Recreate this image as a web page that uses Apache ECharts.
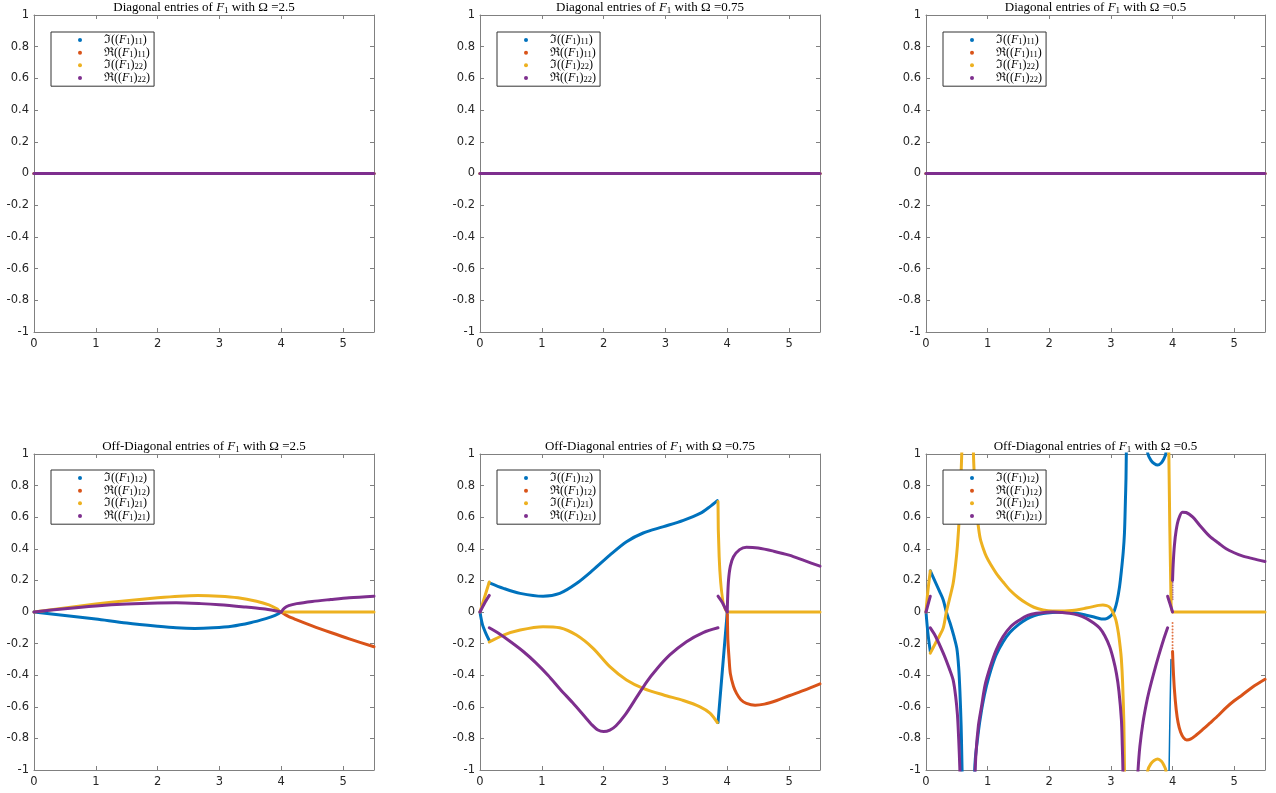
<!DOCTYPE html>
<html><head><meta charset="utf-8">
<script src="https://cdn.jsdelivr.net/npm/echarts@6/dist/echarts.min.js"></script>
<style>html,body{margin:0;padding:0;background:#fff}#c{width:1276px;height:793px}</style>
</head><body><div id="c"></div><script>
// ---------- values ----------
const omegas = ['2.5', '0.75', '0.5'];
const diagNames = ['Im11', 'Re11', 'Im22', 'Re22'];
const offNames = ['Im12', 'Re12', 'Im21', 'Re21'];

// Diagonal entries (all zero)
const diag25_Im11 = [[[0, 0], [5.5, 0]]];
const diag25_Re11 = [[[0, 0], [5.5, 0]]];
const diag25_Im22 = [[[0, 0], [5.5, 0]]];
const diag25_Re22 = [[[0, 0], [5.5, 0]]];
const diag075_Im11 = [[[0, 0], [5.5, 0]]];
const diag075_Re11 = [[[0, 0], [5.5, 0]]];
const diag075_Im22 = [[[0, 0], [5.5, 0]]];
const diag075_Re22 = [[[0, 0], [5.5, 0]]];
const diag05_Im11 = [[[0, 0], [5.5, 0]]];
const diag05_Re11 = [[[0, 0], [5.5, 0]]];
const diag05_Im22 = [[[0, 0], [5.5, 0]]];
const diag05_Re22 = [[[0, 0], [5.5, 0]]];

// Off-diagonal, Omega = 2.5
const off25_Im12 = [[[0,0],[0.5,-0.022],[1,-0.045],[1.5,-0.07],[2,-0.09],[2.3,-0.1],[2.6,-0.104],[2.9,-0.1],[3.2,-0.09],[3.5,-0.068],[3.75,-0.042],[3.9,-0.022],[4,0]]];
const off25_Re12 = [[[4,0],[4.1,-0.025],[4.25,-0.05],[4.5,-0.088],[4.8,-0.13],[5.1,-0.17],[5.5,-0.22]]];
const off25_Im21 = [[[0,0],[0.5,0.026],[1,0.05],[1.5,0.072],[2,0.09],[2.35,0.1],[2.65,0.104],[3,0.1],[3.3,0.09],[3.6,0.068],[3.8,0.045],[3.93,0.02],[4,0],[5.5,0]]];
const off25_Re21 = [
  [[0,0],[0.5,0.021],[1,0.038],[1.5,0.05],[2,0.057],[2.3,0.058],[2.7,0.053],[3,0.046],[3.4,0.032],[3.7,0.02],[3.9,0.008],[4,0]],
  [[4,0],[4.05,0.025],[4.12,0.04],[4.25,0.053],[4.5,0.067],[4.8,0.079],[5.1,0.09],[5.5,0.1]]
];

// Off-diagonal, Omega = 0.75
const off075_Im12 = [
  [[0,0],[0.04,-0.08],[0.1,-0.14],[0.15,-0.18]],
  [[0.15,0.185],[0.38,0.15],[0.65,0.118],[1.02,0.1],[1.29,0.118],[1.56,0.18],[1.83,0.266],[2.1,0.36],[2.37,0.445],[2.64,0.5],[2.97,0.54],[3.29,0.58],[3.56,0.624],[3.72,0.667],[3.84,0.705]],
  [[3.85,-0.7],[4,0]]
];
const off075_Re12 = [[[4,0],[4.005,-0.1],[4.01,-0.18],[4.03,-0.3],[4.05,-0.39],[4.1,-0.47],[4.15,-0.515],[4.22,-0.555],[4.31,-0.578],[4.45,-0.59],[4.6,-0.583],[4.8,-0.56],[5,-0.53],[5.25,-0.495],[5.5,-0.455]]];
const off075_Im21 = [
  [[0,0],[0.15,0.19]],
  [[0.15,-0.19],[0.38,-0.146],[0.65,-0.114],[1.02,-0.093],[1.29,-0.1],[1.56,-0.146],[1.83,-0.23],[2.1,-0.346],[2.37,-0.43],[2.64,-0.483],[2.97,-0.525],[3.29,-0.56],[3.56,-0.6],[3.72,-0.64],[3.84,-0.7]],
  [[3.85,0.7],[4,0],[5.5,0]]
];
const off075_Re21 = [
  [[0,0],[0.08,0.06],[0.15,0.105]],
  [[0.15,-0.1],[0.3,-0.135],[0.5,-0.19],[0.7,-0.25],[0.9,-0.32],[1.1,-0.4],[1.3,-0.49],[1.5,-0.575],[1.7,-0.665],[1.8,-0.71],[1.9,-0.745],[2,-0.757],[2.1,-0.748],[2.2,-0.72],[2.35,-0.65],[2.54,-0.536],[2.7,-0.44],[2.85,-0.365],[3.07,-0.272],[3.34,-0.188],[3.61,-0.13],[3.85,-0.1]],
  [[3.85,0.1],[3.92,0.06],[3.97,0.02],[4,0]],
  [[4,0],[4.005,0.08],[4.02,0.2],[4.05,0.29],[4.1,0.35],[4.2,0.395],[4.31,0.41],[4.5,0.405],[4.75,0.385],[5,0.36],[5.25,0.325],[5.5,0.29]]
];

// Off-diagonal, Omega = 0.5
const off05_Im12 = [
  [[0,0],[0.03,-0.13],[0.07,-0.25]],
  [[0.07,0.26],[0.15,0.19],[0.22,0.13],[0.28,0.076],[0.33,0],[0.39,-0.07],[0.45,-0.15],[0.5,-0.23],[0.53,-0.35],[0.55,-0.5],[0.57,-0.72],[0.58,-0.9],[0.59,-1.1]],
  [[0.78,-1.1],[0.8,-0.93],[0.84,-0.79],[0.87,-0.7],[0.92,-0.58],[0.98,-0.47],[1.05,-0.37],[1.14,-0.27],[1.25,-0.19],[1.36,-0.13],[1.5,-0.08],[1.63,-0.045],[1.75,-0.024],[1.9,-0.01],[2.05,-0.003],[2.2,0],[2.44,-0.008],[2.6,-0.02],[2.71,-0.03],[2.8,-0.04],[2.87,-0.045],[2.93,-0.042],[2.98,-0.03],[3.03,-0.01],[3.06,0.013],[3.1,0.07],[3.14,0.16],[3.17,0.26],[3.2,0.38],[3.22,0.5],[3.235,0.7],[3.245,0.85],[3.25,1],[3.26,1.2]],
  [[3.58,1.1],[3.6,1],[3.65,0.96],[3.7,0.94],[3.76,0.93],[3.82,0.945],[3.86,0.97],[3.89,1],[3.9,1.1]]
];
const off05_Im12_steep = [[[3.94,-1.1],[3.96,-0.6],[3.975,-0.3]]];
const off05_Re12 = [[[4,-0.25],[4.01,-0.35],[4.03,-0.49],[4.06,-0.62],[4.09,-0.7],[4.13,-0.76],[4.18,-0.797],[4.23,-0.81],[4.29,-0.805],[4.38,-0.78],[4.5,-0.74],[4.6,-0.705],[4.75,-0.652],[4.87,-0.605],[5,-0.562],[5.13,-0.525],[5.3,-0.475],[5.5,-0.426]]];
const off05_Re12_dots = [[4,-0.07],[4,-0.09],[4,-0.11],[4,-0.13],[4,-0.15],[4,-0.17],[4,-0.19],[4,-0.21],[4,-0.23]];
const off05_Im21 = [
  [[0,0],[0.03,0.13],[0.07,0.26]],
  [[0.07,-0.26],[0.15,-0.2],[0.22,-0.15],[0.28,-0.1],[0.33,0],[0.38,0.08],[0.44,0.18],[0.48,0.3],[0.51,0.42],[0.54,0.6],[0.56,0.78],[0.58,1],[0.6,1.25]],
  [[0.765,1.2],[0.77,1],[0.785,0.85],[0.8,0.74],[0.82,0.64],[0.85,0.54],[0.88,0.465],[0.93,0.4],[0.98,0.35],[1.05,0.3],[1.14,0.245],[1.25,0.19],[1.36,0.139],[1.5,0.09],[1.63,0.055],[1.75,0.03],[1.9,0.013],[2.05,0.006],[2.2,0.006],[2.44,0.013],[2.6,0.025],[2.71,0.034],[2.8,0.042],[2.87,0.044],[2.93,0.04],[2.98,0.03],[3.03,0],[3.08,-0.05],[3.12,-0.13],[3.15,-0.22],[3.17,-0.3],[3.19,-0.45],[3.21,-0.7],[3.22,-1],[3.23,-1.2]],
  [[3.58,-1.1],[3.6,-1],[3.65,-0.96],[3.7,-0.94],[3.76,-0.93],[3.82,-0.945],[3.86,-0.97],[3.89,-1],[3.9,-1.1]],
  [[3.935,1.1],[3.94,1],[3.975,0.08],[4,0],[5.5,0]]
];
const off05_Re21 = [
  [[0,0],[0.07,0.1]],
  [[0.07,-0.1],[0.15,-0.15],[0.28,-0.26],[0.38,-0.36],[0.44,-0.43],[0.48,-0.53],[0.51,-0.65],[0.53,-0.8],[0.55,-1],[0.56,-1.15]],
  [[0.79,-1.1],[0.81,-0.9],[0.85,-0.72],[0.9,-0.6],[0.96,-0.46],[1.04,-0.35],[1.14,-0.24],[1.25,-0.156],[1.38,-0.09],[1.52,-0.05],[1.65,-0.022],[1.79,-0.008],[1.95,-0.002],[2.06,0],[2.2,-0.003],[2.33,-0.008],[2.47,-0.02],[2.6,-0.04],[2.72,-0.07],[2.82,-0.103],[2.9,-0.15],[2.98,-0.22],[3.04,-0.3],[3.09,-0.39],[3.13,-0.5],[3.17,-0.68],[3.185,-0.85],[3.195,-1],[3.2,-1.2]],
  [[3.43,-1.1],[3.44,-1],[3.47,-0.85],[3.52,-0.7],[3.57,-0.59],[3.62,-0.5],[3.7,-0.38],[3.78,-0.27],[3.85,-0.18],[3.92,-0.1]],
  [[3.92,0.1],[3.96,0.05],[4,0]],
  [[4,0.2],[4.01,0.3],[4.03,0.42],[4.06,0.52],[4.1,0.59],[4.16,0.632],[4.22,0.63],[4.33,0.6],[4.45,0.545],[4.6,0.48],[4.75,0.435],[4.87,0.4],[5,0.375],[5.13,0.355],[5.3,0.338],[5.5,0.32]]
];
const off05_Re21_dots = [[4,0.08],[4,0.095],[4,0.11],[4,0.125],[4,0.14],[4,0.155],[4,0.17],[4,0.185],[4,0.2]];

// ---------- layout / style ----------
const COLORS = ['#0072BD', '#D95319', '#EDB120', '#7E2F8E'];
const AXIS = '#808080';
const LEFTS = [34, 480, 926];
const WIDTHS = [340, 340, 339];
const TOPS = [15, 454];
const HEIGHTS = [317, 316];

const panels = [
  { row: 0, col: 0, kind: 'Diagonal', names: diagNames, data: [diag25_Im11, diag25_Re11, diag25_Im22, diag25_Re22] },
  { row: 0, col: 1, kind: 'Diagonal', names: diagNames, data: [diag075_Im11, diag075_Re11, diag075_Im22, diag075_Re22] },
  { row: 0, col: 2, kind: 'Diagonal', names: diagNames, data: [diag05_Im11, diag05_Re11, diag05_Im22, diag05_Re22] },
  { row: 1, col: 0, kind: 'Off-Diagonal', names: offNames, data: [off25_Im12, off25_Re12, off25_Im21, off25_Re21] },
  { row: 1, col: 1, kind: 'Off-Diagonal', names: offNames, data: [off075_Im12, off075_Re12, off075_Im21, off075_Re21] },
  { row: 1, col: 2, kind: 'Off-Diagonal', names: offNames, data: [off05_Im12, off05_Re12, off05_Im21, off05_Re21],
    extra: [{ k: 0, segs: off05_Im12_steep, width: 1.5 }],
    dots: [{ k: 1, pts: off05_Re12_dots }, { k: 3, pts: off05_Re21_dots }] }
];

const grid = [], xAxis = [], yAxis = [], series = [], legend = [], graphic = [];
const serif = 'Liberation Serif, DejaVu Serif, serif';

function legendFmt(name) {
  const sym = name[0] === 'I' ? 'ℑ' : 'ℜ';
  return '{a|' + sym + '((}{i|F}{s|1}{a|)}{s|' + name.slice(2) + '}{a|)}';
}

panels.forEach((p, gi) => {
  const left = LEFTS[p.col], top = TOPS[p.row], w = WIDTHS[p.col], h = HEIGHTS[p.row];
  grid.push({ left: left, top: top, width: w, height: h, containLabel: false });
  const labelStyle = { color: '#262626', fontSize: 11.5, fontFamily: 'DejaVu Sans, sans-serif' };
  xAxis.push({ type: 'value', gridIndex: gi, min: 0, max: 5.5, interval: 1, position: 'bottom',
    axisLine: { show: true, onZero: false, lineStyle: { color: AXIS, width: 1 } },
    axisTick: { show: true, inside: true, length: 4, lineStyle: { color: AXIS } },
    axisLabel: Object.assign({ margin: 6, showMaxLabel: false }, labelStyle),
    splitLine: { show: false } });
  xAxis.push({ type: 'value', gridIndex: gi, min: 0, max: 5.5, interval: 1, position: 'top',
    axisLine: { show: true, onZero: false, lineStyle: { color: AXIS, width: 1 } },
    axisTick: { show: true, inside: true, length: 4, lineStyle: { color: AXIS } },
    axisLabel: { show: false }, splitLine: { show: false } });
  yAxis.push({ type: 'value', gridIndex: gi, min: -1, max: 1, interval: 0.2, position: 'left',
    axisLine: { show: true, onZero: false, lineStyle: { color: AXIS, width: 1 } },
    axisTick: { show: true, inside: true, length: 4, lineStyle: { color: AXIS } },
    axisLabel: Object.assign({ margin: 5, formatter: v => String(Math.round(v * 10) / 10) }, labelStyle),
    splitLine: { show: false } });
  yAxis.push({ type: 'value', gridIndex: gi, min: -1, max: 1, interval: 0.2, position: 'right',
    axisLine: { show: true, onZero: false, lineStyle: { color: AXIS, width: 1 } },
    axisTick: { show: true, inside: true, length: 4, lineStyle: { color: AXIS } },
    axisLabel: { show: false }, splitLine: { show: false } });

  const xi = gi * 2, yi = gi * 2;
  const addLine = (name, color, seg, width) => series.push({
    type: 'line', name: name, xAxisIndex: xi, yAxisIndex: yi, data: seg,
    symbol: 'none', showSymbol: false, smooth: 0.3, clip: true,
    lineStyle: { width: width, color: color, cap: 'round', join: 'round' }, itemStyle: { color: color },
    emphasis: { disabled: true }, animation: false, silent: true
  });
  p.names.forEach((name, k) => {
    p.data[k].forEach(seg => addLine(name, COLORS[k], seg, 3));
    (p.extra || []).filter(e => e.k === k).forEach(e => e.segs.forEach(seg => addLine(name, COLORS[k], seg, e.width)));
    (p.dots || []).filter(d => d.k === k).forEach(d => series.push({
      type: 'scatter', name: name, xAxisIndex: xi, yAxisIndex: yi, data: d.pts,
      symbol: 'circle', symbolSize: 2, itemStyle: { color: COLORS[k] }, animation: false, silent: true
    }));
  });

  legend.push({
    orient: 'vertical', left: left + 17, top: p.row === 0 ? 32 : 470,
    data: p.names, icon: 'circle', itemWidth: 4, itemHeight: 4, itemGap: 0.4,
    padding: [2, 4, 2, 27], backgroundColor: '#fff', borderColor: '#333', borderWidth: 1, borderRadius: 0,
    selectedMode: false, formatter: legendFmt,
    textStyle: { padding: [0, 0, 0, 17], color: '#000',
      rich: {
        a: { fontFamily: serif, fontSize: 12, lineHeight: 12.5, color: '#000' },
        i: { fontFamily: serif, fontSize: 12, lineHeight: 12.5, fontStyle: 'italic', color: '#000' },
        s: { fontFamily: serif, fontSize: 8.5, lineHeight: 9, verticalAlign: 'bottom', color: '#000' }
      } }
  });

  graphic.push({
    type: 'text', x: left + w / 2, y: p.row === 0 ? 8 : 447, silent: true,
    style: {
      text: '{a|' + p.kind + ' entries of }{i|F}{s|1}{a| with Ω =' + omegas[p.col] + '}',
      align: 'center', verticalAlign: 'middle',
      rich: {
        a: { fontFamily: serif, fontSize: 13, lineHeight: 15, fill: '#000' },
        i: { fontFamily: serif, fontSize: 13, lineHeight: 15, fontStyle: 'italic', fill: '#000' },
        s: { fontFamily: serif, fontSize: 9, lineHeight: 10, verticalAlign: 'bottom', fill: '#000' }
      }
    }
  });
});

const chart = echarts.init(document.getElementById('c'), null, { renderer: 'canvas' });
chart.setOption({ backgroundColor: '#fff', animation: false, grid, xAxis, yAxis, series, legend, graphic });
</script></body></html>
